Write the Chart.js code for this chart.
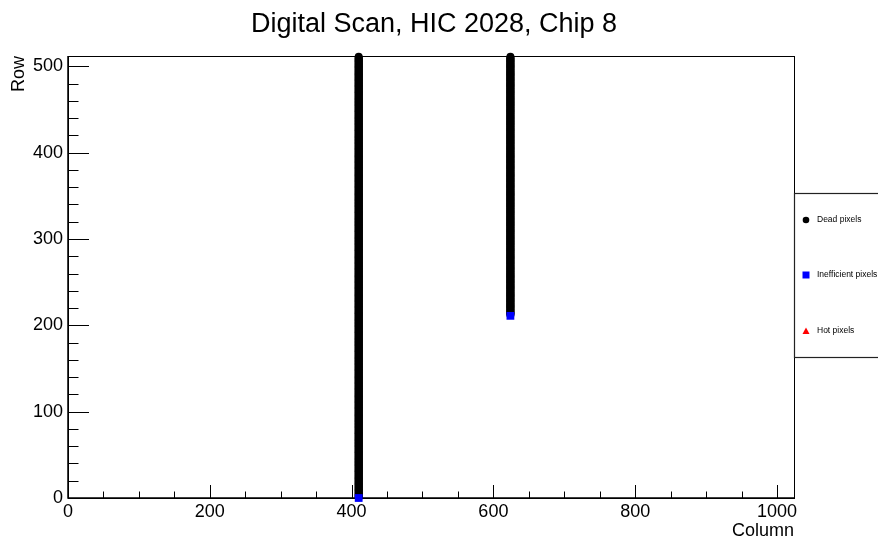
<!DOCTYPE html>
<html>
<head>
<meta charset="utf-8">
<script src="https://cdn.jsdelivr.net/npm/chart.js@4"></script>
<style>
  html, body { margin: 0; padding: 0; background: #fff; }
  #wrap { width: 878px; height: 540px; }
</style>
</head>
<body>
<div id="wrap"><canvas id="scan" width="878" height="540"></canvas></div>
<script>
  // data (pixel columns / rows)
  const deadColumns = [410, 624];
  const deadRowFrom = [1, 212];
  const deadRowTo = [511, 511];
  const inefficientCols = [410, 624];
  const inefficientRows = [0, 211];
  const hotCols = [];
  const hotRows = [];
  const xTicks = [0, 200, 400, 600, 800, 1000];
  const yTicks = [0, 100, 200, 300, 400, 500];
  const legendLabels = ['Dead pixels', 'Inefficient pixels', 'Hot pixels'];

  // every row of a dead column run is a dead pixel
  const deadPoints = [];
  deadColumns.forEach((c, i) => {
    for (let r = deadRowFrom[i]; r <= deadRowTo[i]; r++) deadPoints.push({ x: c, y: r });
  });
  const ineffPoints = inefficientCols.map((c, i) => ({ x: c, y: inefficientRows[i] }));
  const hotPoints = hotCols.map((c, i) => ({ x: c, y: hotRows[i] }));

  const FONT = '"Liberation Sans", Arial, sans-serif';

  const rootFrame = {
    id: 'rootFrame',
    beforeDatasetsDraw(chart) {
      const { ctx, chartArea: a, scales: { x, y } } = chart;
      ctx.save();
      // title
      ctx.fillStyle = '#000';
      ctx.font = '27px ' + FONT;
      ctx.textAlign = 'center';
      ctx.textBaseline = 'alphabetic';
      ctx.fillText('Digital Scan, HIC 2028, Chip 8', 434, 32);

      // frame
      ctx.strokeStyle = '#000';
      ctx.lineWidth = 1;
      ctx.strokeRect(a.left + 0.5, a.top + 0.5, a.right - a.left, a.bottom - a.top);
      ctx.lineWidth = 1.5;
      ctx.beginPath();
      ctx.moveTo(a.left, a.top); ctx.lineTo(a.left, a.bottom); ctx.lineTo(a.right, a.bottom);
      ctx.stroke();

      // x ticks
      ctx.lineWidth = 1;
      ctx.beginPath();
      for (let v = 0; v <= x.max; v += 50) {
        const px = Math.round(x.getPixelForValue(v)) + 0.5;
        const len = v % 200 === 0 ? 13 : 6.5;
        ctx.moveTo(px, a.bottom); ctx.lineTo(px, a.bottom - len);
      }
      // y ticks
      for (let v = 0; v <= y.max; v += 20) {
        const py = Math.round(y.getPixelForValue(v)) + 0.5;
        const len = v % 100 === 0 ? 21 : 10.5;
        ctx.moveTo(a.left, py); ctx.lineTo(a.left + len, py);
      }
      ctx.stroke();

      // tick labels
      ctx.font = '18px ' + FONT;
      ctx.textAlign = 'center';
      ctx.textBaseline = 'top';
      xTicks.forEach(v => ctx.fillText(String(v), x.getPixelForValue(v), a.bottom + 5));
      ctx.textAlign = 'right';
      ctx.textBaseline = 'middle';
      yTicks.forEach(v => ctx.fillText(String(v), a.left - 5, y.getPixelForValue(v)));

      // axis titles
      ctx.textAlign = 'right';
      ctx.textBaseline = 'alphabetic';
      ctx.fillText('Column', a.right, 536);
      ctx.save();
      ctx.translate(23.5, a.top);
      ctx.rotate(-Math.PI / 2);
      ctx.fillText('Row', 0, 0);
      ctx.restore();
      ctx.restore();
    },
    afterDraw(chart) {
      const { ctx, chartArea: a } = chart;
      ctx.save();
      // legend box, cut by the canvas edge on the right
      ctx.fillStyle = '#fff';
      ctx.fillRect(a.right, 193, 100, 164);
      ctx.strokeStyle = '#222';
      ctx.lineWidth = 1.2;
      ctx.strokeRect(a.right + 0.5, 193.5, 100, 164);
      const rows = [220, 275, 331];
      ctx.font = '8.5px ' + FONT;
      ctx.textAlign = 'left';
      ctx.textBaseline = 'middle';
      chart.data.datasets.forEach((ds, i) => {
        const yy = rows[i];
        ctx.fillStyle = ds.backgroundColor;
        ctx.beginPath();
        if (ds.pointStyle === 'circle') {
          ctx.arc(806, yy, 3.3, 0, Math.PI * 2);
        } else if (ds.pointStyle === 'rect') {
          ctx.rect(802.5, yy - 3.5, 7, 7);
        } else {
          ctx.moveTo(806, yy - 3.5); ctx.lineTo(809.5, yy + 3); ctx.lineTo(802.5, yy + 3); ctx.closePath();
        }
        ctx.fill();
        ctx.fillStyle = '#000';
        ctx.fillText(legendLabels[i], 817, yy);
      });
      ctx.restore();
    }
  };

  new Chart(document.getElementById('scan'), {
    type: 'scatter',
    data: {
      datasets: [
        { label: legendLabels[0], data: deadPoints, backgroundColor: '#000', borderWidth: 0,
          pointStyle: 'circle', pointRadius: 4, order: 3, clip: false },
        { label: legendLabels[1], data: ineffPoints, backgroundColor: '#0000ff', borderWidth: 0,
          pointStyle: 'rect', pointRadius: 5.5, order: 2, clip: false },
        { label: legendLabels[2], data: hotPoints, backgroundColor: '#ff0000', borderWidth: 0,
          pointStyle: 'triangle', pointRadius: 4, order: 1, clip: false }
      ]
    },
    options: {
      responsive: false,
      animation: false,
      events: [],
      layout: { padding: { left: 68, right: 84, top: 56, bottom: 42 } },
      scales: {
        x: { type: 'linear', min: 0, max: 1024, display: false },
        y: { type: 'linear', min: 0, max: 512, display: false }
      },
      plugins: { legend: { display: false }, title: { display: false }, tooltip: { enabled: false } }
    },
    plugins: [rootFrame]
  });
</script>
</body>
</html>
